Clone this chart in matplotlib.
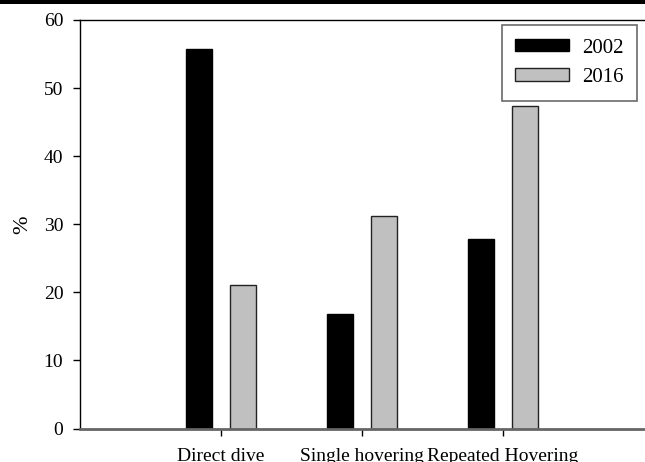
import matplotlib
matplotlib.use("Agg")
import matplotlib.pyplot as plt
import numpy as np
from matplotlib.patches import Rectangle

categories = ["Direct dive", "Single hovering", "Repeated Hovering"]
years = ["2002", "2016"]
values_2002 = [55.8, 16.8, 27.9]
values_2016 = [21.1, 31.2, 47.4]
yticks = [0, 10, 20, 30, 40, 50, 60]

plt.rcParams['font.family'] = ['Liberation Serif', 'DejaVu Serif']

fig = plt.figure(figsize=(6.45, 4.62), dpi=100)
ax = fig.add_axes([80/645, 33.5/462, 1.02 - 80/645, (428.5-20)/462])

x = np.arange(1, len(categories) + 1)
w = 0.185
off = 0.156
ax.bar(x - off, values_2002, w, color='black', edgecolor='black', linewidth=1, label=years[0])
ax.bar(x + off, values_2016, w, color='#c0c0c0', edgecolor='#222222', linewidth=1, label=years[1])

ax.set_xlim(0, 4.1)
ax.set_ylim(0, 60)
ax.set_yticks(yticks)
ax.set_xticks(x)
ax.set_xticklabels(categories, fontsize=14)
ax.tick_params(axis='y', labelsize=14, direction='out', length=5, width=1, pad=7)
ax.tick_params(axis='x', direction='out', length=5, width=1, pad=9)
ax.set_ylabel('%', fontsize=16, labelpad=8)

ax.spines['right'].set_visible(False)
ax.spines['top'].set_linewidth(1)
ax.spines['left'].set_linewidth(1)
ax.spines['bottom'].set_color('#666666')
ax.spines['bottom'].set_linewidth(2)

leg = ax.legend(loc='upper right', bbox_to_anchor=((637-80)/(1.02*645-80), (428.5-25)/408.5),
                fontsize=15, frameon=True, fancybox=False, edgecolor='#444444',
                handlelength=2.6, handleheight=0.55, borderpad=0.65, labelspacing=0.5,
                handletextpad=0.6, borderaxespad=0)
leg.get_frame().set_linewidth(1.2)

fig.patches.append(Rectangle((0, 1 - 4/462), 1, 4/462, transform=fig.transFigure,
                             facecolor='black', edgecolor='none'))

fig.savefig('out.png', dpi=100)
